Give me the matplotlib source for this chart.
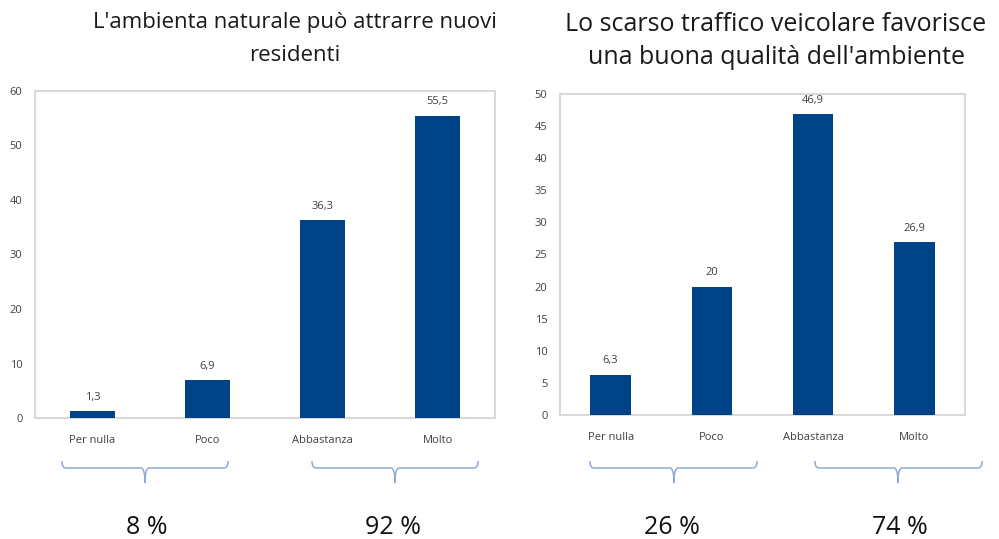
import matplotlib
matplotlib.use("Agg")
import matplotlib.pyplot as plt
from matplotlib.path import Path
from matplotlib.patches import PathPatch

# ---- data ----
categories = ["Per nulla", "Poco", "Abbastanza", "Molto"]
values_left = [1.3, 6.9, 36.3, 55.5]
values_right = [6.3, 20, 46.9, 26.9]
labels_left = ["1,3", "6,9", "36,3", "55,5"]
labels_right = ["6,3", "20", "46,9", "26,9"]
title_left = "L'ambienta naturale può attrarre nuovi\nresidenti"
title_right = "Lo scarso traffico veicolare favorisce\nuna buona qualità dell'ambiente"
groups_left = ["8 %", "92 %"]
groups_right = ["26 %", "74 %"]
yticks_left = [0, 10, 20, 30, 40, 50, 60]
yticks_right = [0, 5, 10, 15, 20, 25, 30, 35, 40, 45, 50]

BAR = "#004386"
FRAME = "#d9d9d9"
TXT = "#404040"
BRACE = "#8eaadb"

plt.rcParams['font.family'] = ['Open Sans', 'DejaVu Sans']

fig = plt.figure(figsize=(9.99, 5.39), dpi=100)
W, H = 999, 539


def px_ax(l, t, r, b):
    return fig.add_axes([l / W, 1 - b / H, (r - l) / W, (b - t) / H])


def draw_panel(ax, vals, labs, yticks, ymax, width):
    x = range(len(categories))
    ax.bar(x, vals, width=width, color=BAR, zorder=3)
    ax.set_xlim(-0.5, len(categories) - 0.5)
    ax.set_ylim(0, ymax)
    ax.set_yticks(yticks)
    ax.set_yticklabels([str(t) for t in yticks], fontsize=8, color=TXT)
    ax.set_xticks(list(x))
    ax.set_xticklabels(categories, fontsize=8, color=TXT)
    ax.tick_params(length=0, pad=12, axis='x')
    ax.tick_params(length=0, pad=9, axis='y')
    for s in ax.spines.values():
        s.set_color(FRAME)
        s.set_linewidth(1.5)
    for i, (v, l) in enumerate(zip(vals, labs)):
        ax.annotate(l, (i, v), xytext=(0, 6), textcoords='offset points',
                    ha='center', va='bottom', fontsize=8, color=TXT)


def brace(x0, x1, xc, ytop=461, ymid=468, ybot=483):
    r = 4
    verts = [
        (x0, ytop), (x0, ymid), (x0 + r, ymid),
        (xc - r, ymid), (xc, ymid), (xc, ybot),
        (xc, ymid), (xc + r, ymid),
        (x1 - r, ymid), (x1, ymid), (x1, ytop),
    ]
    codes = [Path.MOVETO, Path.CURVE3, Path.CURVE3,
             Path.LINETO, Path.CURVE3, Path.CURVE3,
             Path.CURVE3, Path.CURVE3,
             Path.LINETO, Path.CURVE3, Path.CURVE3]
    verts = [(vx / W, 1 - vy / H) for vx, vy in verts]
    p = PathPatch(Path(verts, codes), fill=False, edgecolor=BRACE, lw=1.1,
                  transform=fig.transFigure)
    fig.patches.append(p)


axL = px_ax(35, 91, 495, 418)
draw_panel(axL, values_left, labels_left, yticks_left, 60, 0.39)
axR = px_ax(560, 94, 965, 415)
draw_panel(axR, values_right, labels_right, yticks_right, 50, 0.40)

fig.text(295 / W, 1 - 39 / H, title_left, ha='center', va='center',
         fontsize=16, color='#1a1a1a', linespacing=1.7)
fig.text(776 / W, 1 - 41 / H, title_right, ha='center', va='center',
         fontsize=18, color='#1a1a1a', linespacing=1.4)

brace(62, 228, 145)
brace(312, 478, 395)
brace(590, 757, 674)
brace(815, 982, 898)

for xc, t in zip([147, 393], groups_left):
    fig.text(xc / W, 1 - 527 / H, t, ha='center', va='center', fontsize=18, color='#111111')
for xc, t in zip([672, 900], groups_right):
    fig.text(xc / W, 1 - 527 / H, t, ha='center', va='center', fontsize=18, color='#111111')

fig.savefig("out.png", dpi=100)
